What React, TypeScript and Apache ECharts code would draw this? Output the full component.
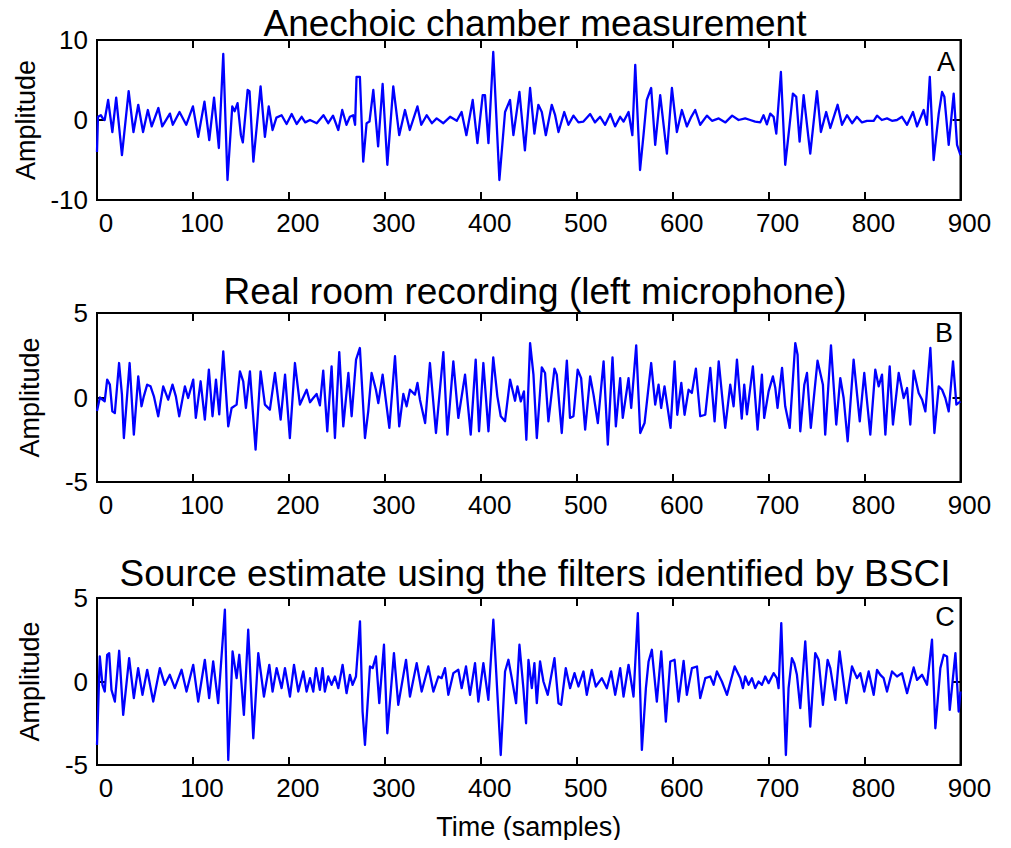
import React, { useEffect, useRef } from "react";
import * as echarts from "echarts";

// ---------- Data ----------
const xTicks = [0, 100, 200, 300, 400, 500, 600, 700, 800, 900];

const titles = [
  "Anechoic chamber measurement",
  "Real room recording (left microphone)",
  "Source estimate using the filters identified by BSCI",
];
const panelLetters = ["A", "B", "C"];
const yRanges = [
  [-10, 10, 10],
  [-5, 5, 5],
  [-5, 5, 5],
];

// Panel A: anechoic chamber measurement
const anechoicT = [
  0, 1, 4, 6, 8, 11.6, 16, 20, 26, 33, 38, 43, 48, 53, 57, 64, 68, 76, 79, 86, 93, 100, 105.5, 112, 117, 122, 127,
  131.6, 136, 141, 143.5, 146.5, 150, 152, 157, 159, 163, 170.5, 175, 179, 183, 187, 192.4, 197.6, 202.9, 208.1,
  213.3, 217, 222, 229, 236, 241, 246, 251.5, 255.6, 260, 263.6, 267, 269, 270.5, 274, 277.5, 281, 284, 288, 293,
  297.7, 302.6, 308.8, 315, 321, 326, 334, 338, 343.6, 349, 354, 361, 368, 375, 380, 385, 391.6, 396.5, 402, 404.4,
  408, 413, 419.4, 425.3, 430.5, 434, 440.3, 446, 451.4, 455.9, 460, 463.6, 467.8, 474, 477.5, 481, 487, 491.4,
  496.6, 501.8, 507, 514, 519, 524.4, 529.6, 535, 540, 545.3, 548.8, 554, 558, 561, 566, 569.6, 573, 577.6, 581.8,
  587, 594, 599.2, 604.4, 609.6, 614.8, 619.4, 623.5, 628.7, 635.7, 641, 648, 655, 662, 668.7, 675.6, 680.8, 686,
  691.3, 694.7, 698.2, 701.7, 705.2, 708, 712.8, 717.3, 721.9, 725.3, 728.8, 732.3, 736.5, 743.4, 750.4, 754.5,
  760, 764.3, 771.9, 776.5, 781.7, 787, 792, 797.3, 802.5, 809.5, 813, 818, 823.4, 828.6, 833.8, 839, 844.3,
  850.5, 854.7, 861.6, 865, 868, 872, 877.3, 880.8, 883.2, 887.7, 892.9, 896.4, 900,
];
const anechoicV = [
  -4.0, 0.4, 0.6, 0.2, 0, 2.5, -1.5, 2.8, -4.4, 3.6, -1.5, 1.9, -1.5, 1.25, -0.8, 1.5, -0.8, 0.8, -0.6, 1.0, -0.6,
  1.7, -2.1, 2.3, -2.5, 2.8, -3.5, 8.25, -7.5, 1.7, 1.1, 2.1, -1.9, -2.8, 3.75, 3.6, -5.2, 4.2, -2.1, 1.7, -1.25,
  0.3, 0.6, -0.5, 0.75, -0.5, 0.4, -0.3, 0, -0.4, 0.6, -0.4, 0.55, -1.25, 1.25, -0.6, 0.4, 0.6, -0.6, 5.4, 5.4,
  -5.2, -0.4, -0.2, 3.75, -3.3, 4.5, -5.6, 4.2, -1.9, 1.25, -1.25, 1.7, -0.6, 0.6, -0.4, 0.2, -0.4, 0.4, -0.1, 1.0,
  -1.9, 2.5, -2.9, 3.1, 3.1, -2.9, 8.5, -7.5, 1.0, 2.5, -1.9, 3.5, -3.8, 4.0, -1.7, 1.9, 1.0, -1.9, 1.9, 0.6, -1.5,
  1.0, -0.6, 0.55, -0.3, -0.2, 0.75, -0.3, 0.4, -0.6, 0.75, -0.8, 0.4, -0.2, 1.0, -1.9, 6.9, -6.25, -1.9, 2.5,
  4.0, -3.1, 3.1, -4.2, 4.0, -1.5, 1.25, -0.8, 0.4, 1.25, -0.6, 0.55, -0.1, 0.2, -0.3, 0.55, 0, 0.2, 0, -0.2,
  -0.3, 0.6, -0.55, 0.8, 0.4, -1.7, 6.0, -5.6, -0.6, 3.3, 2.9, -2.7, 3.1, -4.2, 3.6, -1.5, 1.0, -1.0, 1.9, -0.6,
  0.6, -0.4, 0.4, -0.3, -0.1, -0.1, 0.55, 0, 0.2, -0.1, 0, 0.4, -0.6, 1.0, -0.8, 1.25, -0.6, 5.4, -5.0, 0.8, 3.5,
  2.9, -3.1, 3.3, -3.1, -4.4,
];

// Panel B: real room recording (left microphone)
const roomT = [
  0, 3, 5.7, 8, 10.6, 13.4, 16, 18.6, 23, 26, 28, 34, 38.4, 43, 46.4, 48.8, 52.3, 55.8, 59.3, 63.8, 69, 74.2, 78.7,
  82.2, 85.7, 91.6, 95, 100.3, 103, 108, 112.4, 116.6, 120.4, 124, 127.4, 131.6, 136.8, 140.3, 145.5, 149, 152.4,
  155.2, 159.4, 165.3, 170.5, 175, 180.2, 185.5, 191.4, 196, 201, 206.3, 211.5, 218.5, 222, 225.4, 228.9, 232.3,
  235.8, 240, 244.5, 248, 252.5, 256.7, 262, 265.4, 270, 274, 279.3, 282.7, 286.2, 290.7, 293.2, 297.7, 304.7,
  310.6, 315, 319.3, 322.7, 326.2, 331.4, 334, 336.6, 342, 347, 353.3, 361, 365.2, 371.4, 376.6, 383.6, 389.5,
  394.7, 398.2, 402.7, 408, 413, 417.3, 420.8, 425.3, 430.5, 435.7, 438.2, 441.7, 445, 447.5, 451.4, 454.9, 458.4,
  463.6, 467, 470.5, 476.8, 479.2, 484.4, 489.7, 493, 496.6, 501, 504.6, 508.8, 514, 517.5, 522, 528, 532.4, 537.3,
  540.8, 545.3, 548, 554, 556.8, 562, 566.2, 570.7, 577.6, 581.8, 585.3, 588, 591.5, 597.8, 602, 604.8, 609, 612.4,
  616.6, 620, 624.2, 628.7, 634, 639.2, 643.7, 648, 654.8, 660, 663.5, 667, 672, 674.6, 677.4, 683.6, 688.5, 693,
  695.4, 700, 704.5, 707, 709.3, 714, 717.3, 722, 727.8, 730.2, 733, 737.2, 740, 744, 751, 756.6, 759, 765, 770.5,
  774.7, 778.2, 782.4, 788.6, 795, 799.7, 806, 811.2, 814.7, 818.2, 821.7, 826.2, 829.6, 835.6, 840.8, 844.3,
  847.7, 851.2, 856.4, 860, 863.4, 868.6, 872.8, 877.3, 880.8, 884.2, 887.7, 892.2, 895.7, 900,
];
const roomV = [
  -0.8, 0.0, -0.13, -0.23, 1.06, 0.76, -0.82, -0.92, 2.04, 0.17, -2.4, 2.04, -2.2, 1.25, -0.52, 0.07, 0.76, 0.66,
  0.07, -1.11, 0.66, -0.13, 0.76, 0.07, -1.11, 0.66, -0.03, 1.06, -1.21, 0.96, -1.31, 1.65, -1.11, 1.06, -1.0, 2.73,
  -1.71, -0.62, -0.42, 1.55, 0.96, -0.62, 1.55, -3.09, 1.55, -0.42, -0.72, 1.45, -1.31, 1.35, -2.4, 2.04, -0.42,
  0.46, -0.28, -0.03, 0.21, -0.46, 1.59, -2.0, 1.84, -2.4, 2.69, -1.71, 1.45, -1.11, 2.24, 2.93, -2.4, -0.82, 1.45,
  0.46, -0.33, 1.35, -1.8, 2.44, -1.71, 0.21, -0.52, 0.46, 0.17, 0.86, -0.13, -1.51, 2.04, -2.1, 2.69, -2.2, 2.14,
  -1.21, 1.35, -2.2, 2.24, -2.0, 2.04, -2.0, 2.38, 0.07, -1.11, -1.4, 1.06, -0.19, 0.66, -0.23, 0.36, -2.5, 3.22,
  1.35, -2.4, 1.78, 1.45, -1.41, 1.71, 1.35, -2.1, 2.18, -1.21, -1.11, 1.65, 1.15, -1.9, 1.25, 0.17, -1.51, 2.14,
  -2.79, 2.38, -1.71, 1.15, -1.21, 1.15, -0.62, 3.09, -2.1, -1.51, 2.04, -0.42, 0.76, -0.62, 0.66, -1.8, 2.14,
  -1.02, 0.86, -1.02, 0.46, 0.27, 1.71, -1.11, -1.02, 1.75, -1.41, 2.14, -1.8, 0.76, -0.52, 2.24, -1.25, 0.76,
  -1.0, 1.84, -1.9, 1.35, -1.21, 0.36, 1.25, 0.56, -0.62, 1.75, -0.52, -1.8, 3.22, 2.53, -2.0, 0.76, 1.45, -1.8,
  2.18, 0.76, -2.2, 3.09, -1.6, 1.15, -0.03, -2.59, 2.24, -1.41, 1.45, -2.2, 1.65, 0.66, 1.35, -2.2, 1.84, -1.6,
  1.45, -0.03, 0.56, -1.6, 1.59, 0.27, -0.13, -0.82, 2.93, -2.1, 0.66, 0.46, -0.03, -0.82, 2.14, -0.42, -0.23,
];

// Panel C: source estimate using the filters identified by BSCI
const estimateT = [
  0, 2.9, 5.7, 8.1, 10.6, 12.7, 15.1, 18.6, 23.1, 27.3, 33.5, 38.4, 42.9, 47.4, 52.3, 58.6, 65.5, 70.7, 75.9, 81.1,
  88.1, 93.3, 100.3, 105.5, 112.4, 116.9, 121.1, 126.3, 133.3, 136.8, 141.3, 145.5, 148.3, 153.1, 157.6, 162.9,
  168.1, 174, 179.6, 183, 187.2, 192.4, 195.9, 201.1, 205.3, 209.8, 215, 218.5, 222, 225.4, 228.2, 232.3, 235.1,
  237.5, 241, 244.5, 248, 251.5, 256, 260.1, 263.6, 266.4, 269.9, 274.1, 276.8, 279.3, 284.5, 287.3, 290.7, 294.2,
  299.1, 302.6, 309.5, 314, 322.1, 326.2, 333.2, 338.4, 345.3, 350.6, 355.8, 359.2, 362.7, 366.2, 371.4, 376.6,
  380.1, 384.6, 388.8, 394, 397.5, 402.7, 407.9, 413.1, 420.8, 425.3, 428.8, 432.3, 436.8, 440.3, 444.4, 447.2,
  449.7, 453.2, 455.9, 458.4, 461.8, 465.3, 469.8, 476.8, 481, 483.8, 488.6, 493.1, 497.7, 501.8, 507, 510.5, 515.7,
  519.9, 526.2, 531.4, 535.9, 540.1, 545.3, 548.8, 554, 559.2, 563.7, 567.9, 572.1, 574.9, 578.3, 583.5, 588.1,
  592.9, 597.5, 602, 606.1, 611.4, 614.8, 620.1, 625.3, 628.7, 634, 639.2, 642.7, 646.1, 651.3, 656.6, 664.6,
  670.5, 673.2, 675.6, 679.1, 682.6, 686, 689.5, 693, 696.5, 700, 705.2, 708.6, 710.4, 713.2, 718, 720.8, 724.3,
  726.7, 729.5, 733, 738.2, 743.4, 748.6, 752.1, 756.6, 761.5, 764.3, 769.5, 774, 781, 786.9, 792.1, 795.6, 799.7,
  804.3, 809.5, 813, 816.4, 819.9, 823.4, 828.6, 833.8, 839, 844.3, 851.2, 854.7, 859.9, 865.1, 870.3, 873.8,
  877.3, 879, 882.5, 886, 888.8, 894.7, 898.1, 900,
];
const estimateV = [
  -3.8, 1.5, -0.2, -0.6, 1.6, 1.7, -0.5, -1.2, 1.84, -2.0, 1.4, -1.0, 0.8, -0.8, 0.7, -1.2, 0.8, -0.2, 0.4, -0.4,
  0.7, -0.6, 1.0, -1.2, 1.3, -1.0, 1.2, -1.3, 4.3, -4.7, 1.8, 0.2, 1.6, -2.0, 3.1, -3.4, 1.7, -0.9, 1.0, -0.6, 0.8,
  -0.4, 0.8, -0.9, 1.0, -0.6, 0.6, -0.6, 0.2, -0.6, 0.8, -0.5, 0.8, -0.6, 0.3, -0.2, 0.3, -0.4, 1.0, -0.7, 0.4,
  -0.2, 0.3, 3.6, -1.8, -3.8, 0.9, 0.8, 1.5, -1.3, 2.2, -3.1, 1.7, -1.4, 1.3, -0.9, 1.1, -0.6, 0.9, -0.6, 0.3, 0.2,
  0.8, -0.8, 0.5, 0.7, -0.4, 0.9, -0.8, 1.1, -1.2, 1.1, -1.1, 3.7, -4.4, 0.6, 1.3, 0.2, -1.3, 2.2, -0.4, -2.5, 1.3,
  -0.4, 1.1, -1.3, 1.2, 0, -0.8, 1.4, -1.3, -1.4, 0.8, -0.4, 0.5, -0.3, 0.6, -0.8, 0.7, -0.3, 0.2, -0.4, 0.6, -0.8,
  0.8, -0.9, 1.0, -0.9, 4.1, -4.1, -0.4, 1.2, 1.9, -1.2, 1.8, -2.4, 1.2, 1.3, -1.2, 1.24, -0.8, 0.8, 0.9, -1.0,
  0.2, 0.3, -0.2, 0.6, 0, -0.8, 0.9, 0.2, -0.4, 0.3, -0.2, 0.2, -0.4, 0, -0.2, 0.3, -0.1, 0.5, 0.2, -0.4, 3.5,
  -4.4, -0.4, 1.4, 1.1, 0.4, -1.6, 2.4, -2.7, 1.7, 1.3, -1.4, 1.3, 0.8, -1.1, 1.8, -1.3, 0.9, 0.2, 0.5, -0.6, 0.6,
  -0.8, 0.7, 0.4, 0.2, -0.6, 0.6, 0.3, 0.5, -0.7, 0.84, 0.1, 0.4, -0.2, 2.5, -2.8, -0.4, 0.8, 1.6, 1.5, -1.7, 1.7,
  -1.8, -0.6,
];

const seriesT = [anechoicT, roomT, estimateT];
const seriesV = [anechoicV, roomV, estimateV];

// ---------- Layout ----------
const FONT = '"Liberation Sans", Arial, Helvetica, sans-serif';
const gridBoxes = [
  { top: 40, height: 160 },
  { top: 313, height: 169 },
  { top: 598, height: 167 },
];
const titleTops = [0, 268, 550];
const letterPos = [
  [946, 62],
  [944, 333],
  [945, 617],
];

export default function App() {
  const ref = useRef<HTMLDivElement>(null);

  useEffect(() => {
    if (!ref.current) return;
    const chart = echarts.init(ref.current, null, { renderer: "svg" });

    const grids: any[] = [];
    const xAxes: any[] = [];
    const yAxes: any[] = [];
    const series: any[] = [];
    const titleArr: any[] = [];
    const graphics: any[] = [];

    const lineStyle = { color: "#000", width: 2 };
    const tick = { show: true, inside: true, length: 8, lineStyle };

    for (let i = 0; i < 3; i++) {
      grids.push({
        left: 97,
        width: 863.5,
        top: gridBoxes[i].top,
        height: gridBoxes[i].height,
        show: true,
        borderColor: "#000",
        borderWidth: 2,
        backgroundColor: "#fff",
      });
      // bottom x axis
      xAxes.push({
        type: "value",
        gridIndex: i,
        min: 0,
        max: 900,
        interval: 100,
        position: "bottom",
        axisLine: { show: true, onZero: false, lineStyle },
        axisTick: tick,
        splitLine: { show: false },
        axisLabel: {
          show: true,
          color: "#000",
          fontSize: 26,
          fontFamily: FONT,
          margin: 10,
          padding: [0, 0, 0, 18],
          formatter: (v: number) => (xTicks.includes(v) ? String(v) : ""),
        },
        name: i === 2 ? "Time (samples)" : "",
        nameLocation: "middle",
        nameGap: 48,
        nameTextStyle: { color: "#000", fontSize: 27, fontFamily: FONT },
      });
      // top x axis (ticks only)
      xAxes.push({
        type: "value",
        gridIndex: i,
        min: 0,
        max: 900,
        interval: 100,
        position: "top",
        axisLine: { show: true, onZero: false, lineStyle },
        axisTick: tick,
        axisLabel: { show: false },
        splitLine: { show: false },
      });
      const [ymin, ymax, yint] = yRanges[i];
      yAxes.push({
        type: "value",
        gridIndex: i,
        min: ymin,
        max: ymax,
        interval: yint,
        position: "left",
        axisLine: { show: true, onZero: false, lineStyle },
        axisTick: tick,
        splitLine: { show: false },
        axisLabel: { color: "#000", fontSize: 26, fontFamily: FONT, margin: 9 },
        name: "Amplitude",
        nameLocation: "middle",
        nameRotate: 90,
        nameGap: 54,
        nameTextStyle: { color: "#000", fontSize: 27, fontFamily: FONT },
      });
      yAxes.push({
        type: "value",
        gridIndex: i,
        min: ymin,
        max: ymax,
        interval: yint,
        position: "right",
        axisLine: { show: true, onZero: false, lineStyle },
        axisTick: tick,
        axisLabel: { show: false },
        splitLine: { show: false },
      });
      series.push({
        type: "line",
        xAxisIndex: i * 2,
        yAxisIndex: i * 2,
        data: seriesT[i].map((t, k) => [t, seriesV[i][k]]),
        showSymbol: false,
        symbol: "none",
        lineStyle: { color: "#0000ff", width: 2.3, join: "round" },
        clip: true,
        z: 1,
      });
      titleArr.push({
        text: titles[i],
        left: 530,
        top: titleTops[i],
        textAlign: "center",
        textStyle: { color: "#000", fontSize: 37, fontWeight: "normal", fontFamily: FONT },
      });
      graphics.push({
        type: "text",
        x: letterPos[i][0],
        y: letterPos[i][1],
        style: {
          text: panelLetters[i],
          fill: "#000",
          fontSize: 27,
          fontFamily: FONT,
          align: "center",
          verticalAlign: "middle",
        },
        z: 10,
      });
    }

    chart.setOption({
      animation: false,
      backgroundColor: "#fff",
      title: titleArr,
      grid: grids,
      xAxis: xAxes,
      yAxis: yAxes,
      series,
      graphic: graphics,
    });

    return () => chart.dispose();
  }, []);

  return <div ref={ref} style={{ width: 1011, height: 848, margin: -8 }} />;
}
